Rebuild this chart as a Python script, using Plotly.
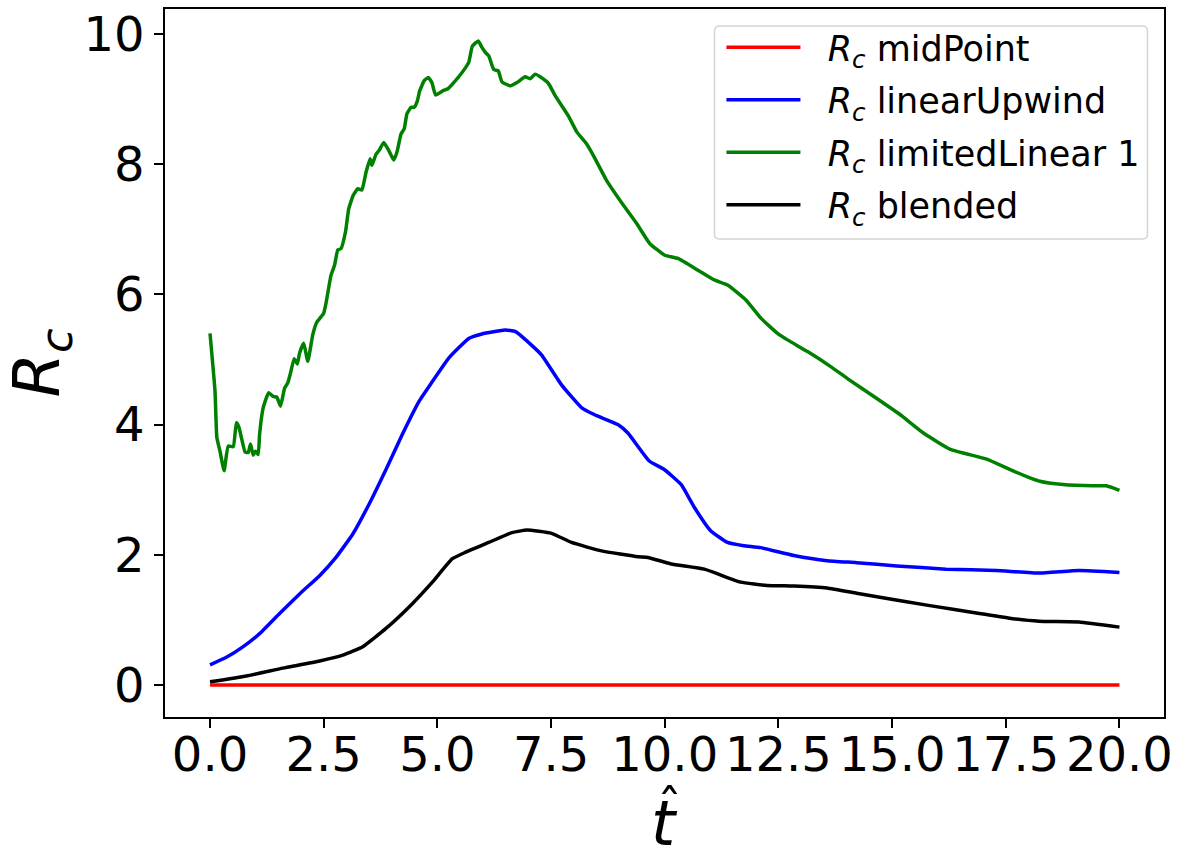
import plotly.graph_objects as go

# ---- data ----
t_mid = [0.0, 20.0]
rc_mid = [0.0, 0.0]

t_lu = [0.0, 0.37, 0.73, 1.09, 1.53, 1.97, 2.41, 2.77, 3.14, 3.50, 3.87, 4.23, 4.60, 4.89,
        5.25, 5.69, 5.98, 6.49, 6.71, 7.07, 7.29, 7.73, 8.17, 8.46, 8.97, 9.19, 9.66, 9.99,
        10.36, 10.65, 11.01, 11.38, 11.74, 12.11, 12.84, 13.57, 14.22, 15.10, 16.19, 17.29,
        18.23, 19.11, 20.0]
rc_lu = [0.31, 0.43, 0.59, 0.79, 1.10, 1.40, 1.68, 1.96, 2.32, 2.78, 3.31, 3.85, 4.36, 4.66,
         5.02, 5.32, 5.39, 5.45, 5.43, 5.22, 5.07, 4.61, 4.26, 4.15, 4.00, 3.87, 3.44, 3.31,
         3.08, 2.73, 2.37, 2.19, 2.14, 2.11, 1.99, 1.91, 1.88, 1.83, 1.78, 1.76,
         1.72, 1.76, 1.73]

t_ll = [0.0, 0.11, 0.15, 0.22, 0.31, 0.40, 0.51, 0.58, 0.64, 0.69, 0.77, 0.84, 0.89, 0.95,
        1.00, 1.06, 1.09, 1.17, 1.29, 1.39, 1.47, 1.55, 1.64, 1.71, 1.77, 1.85, 1.92, 1.97,
        2.06, 2.15, 2.26, 2.34, 2.50, 2.55, 2.66, 2.74, 2.81, 2.88, 2.98, 3.05, 3.15, 3.25,
        3.34, 3.43, 3.52, 3.56, 3.65, 3.72, 3.82, 3.93, 4.04, 4.11, 4.20, 4.27, 4.33, 4.42,
        4.49, 4.56, 4.61, 4.71, 4.80, 4.88, 4.96, 5.11, 5.24, 5.36, 5.47, 5.62, 5.69, 5.77,
        5.90, 5.98, 6.06, 6.13, 6.24, 6.34, 6.42, 6.61, 6.75, 6.93, 7.04, 7.15, 7.26, 7.44,
        7.59, 7.88, 8.07, 8.28, 8.47, 8.72, 9.12, 9.38, 9.67, 10.0, 10.29, 10.73, 11.09,
        11.39, 11.79, 12.12, 12.48, 12.70, 13.14, 13.65, 14.01, 14.60, 15.18, 15.69, 16.28,
        17.08, 17.66, 18.25, 18.76, 19.42, 19.71, 20.0]
rc_ll = [5.40, 4.51, 3.80, 3.59, 3.29, 3.67, 3.66, 4.03, 3.95, 3.80, 3.58, 3.57, 3.70, 3.53,
         3.59, 3.54, 3.85, 4.26, 4.49, 4.43, 4.42, 4.28, 4.56, 4.64, 4.79, 5.01, 4.93, 5.10,
         5.25, 4.97, 5.38, 5.56, 5.71, 5.86, 6.29, 6.45, 6.68, 6.70, 6.96, 7.31, 7.52, 7.62,
         7.60, 7.87, 8.08, 7.98, 8.15, 8.21, 8.33, 8.21, 8.06, 8.18, 8.46, 8.54, 8.77, 8.87,
         8.87, 8.97, 9.12, 9.28, 9.33, 9.25, 9.06, 9.12, 9.16, 9.25, 9.34, 9.48, 9.56, 9.81,
         9.89, 9.79, 9.71, 9.66, 9.45, 9.43, 9.26, 9.20, 9.25, 9.34, 9.31, 9.38, 9.34, 9.24,
         9.05, 8.74, 8.49, 8.31, 8.08, 7.75, 7.34, 7.09, 6.78, 6.60, 6.55, 6.37, 6.22,
         6.14, 5.91, 5.63, 5.40, 5.30, 5.12, 4.89, 4.71, 4.43, 4.15, 3.87, 3.62,
         3.47, 3.29, 3.13, 3.08, 3.06, 3.06, 2.99]

t_bl = [0.0, 0.80, 1.60, 2.41, 2.92, 3.36, 3.87, 4.45, 4.89, 5.33, 5.62, 6.13, 6.64, 6.97,
        7.51, 7.95, 8.61, 9.41, 9.63, 10.14, 10.87, 11.67, 12.25, 12.84, 13.57, 14.22, 14.73,
        15.83, 16.92, 17.65, 18.23, 19.11, 20.0]
rc_bl = [0.05, 0.14, 0.26, 0.37, 0.46, 0.59, 0.87, 1.25, 1.58, 1.94, 2.04, 2.19, 2.34, 2.38,
         2.33, 2.19, 2.06, 1.97, 1.96, 1.86, 1.78, 1.58, 1.53, 1.52, 1.49, 1.41, 1.35,
         1.22, 1.10, 1.02, 0.98, 0.97, 0.89]

names = ["midPoint", "linearUpwind", "limitedLinear 1", "blended"]
colors = ["#ff0000", "#0000ff", "#008000", "#000000"]

x_ticks = [0, 2.5, 5, 7.5, 10, 12.5, 15, 17.5, 20]
x_tick_labels = ["0.0", "2.5", "5.0", "7.5", "10.0", "12.5", "15.0", "17.5", "20.0"]
y_ticks = [0, 2, 4, 6, 8, 10]
y_tick_labels = ["0", "2", "4", "6", "8", "10"]

FONT = "DejaVu Sans"
fig = go.Figure()
series = [(t_mid, rc_mid), (t_lu, rc_lu), (t_ll, rc_ll), (t_bl, rc_bl)]
for i, ((xs, ys), nm, col) in enumerate(zip(series, names, colors)):
    fig.add_trace(go.Scatter(
        x=xs, y=ys, mode="lines",
        name="\u00a0\u00a0<i>R</i><sub><i>c</i></sub> " + nm,
        legendgroup="g%d" % i,
        line=dict(color=col, width=3.5, shape="spline", smoothing=0.4),
    ))

axis_common = dict(
    showgrid=False, zeroline=False, showline=True, linecolor="black", linewidth=1.6,
    mirror=True, ticks="outside", ticklen=9, tickwidth=1.6, tickcolor="black",
    tickfont=dict(family=FONT, size=48, color="black"),
)

# rounded legend frame (paper coordinates of the plot area)
PW, PH = 1003.6, 711.0
x0, x1 = (717 - 165) / PW, (1152 - 165) / PW
y1, y0 = 1 - (23 - 6) / PH, 1 - (237 - 6) / PH
rx, ry = 5 / PW, 5 / PH
frame_path = (
    f"M {x0+rx},{y1} L {x1-rx},{y1} Q {x1},{y1} {x1},{y1-ry} "
    f"L {x1},{y0+ry} Q {x1},{y0} {x1-rx},{y0} L {x0+rx},{y0} "
    f"Q {x0},{y0} {x0},{y0+ry} L {x0},{y1-ry} Q {x0},{y1} {x0+rx},{y1} Z"
)

fig.update_layout(
    width=1179, height=847,
    margin=dict(l=165, r=10, t=6, b=130),
    paper_bgcolor="white", plot_bgcolor="white",
    font=dict(family=FONT, color="black"),
    xaxis=dict(range=[-0.99, 20.98], tickvals=x_ticks, ticktext=x_tick_labels,
               ticklabelstandoff=-14, **axis_common),
    yaxis=dict(range=[-0.49, 10.38], tickvals=y_ticks, ticktext=y_tick_labels,
               title=dict(text="<i>R</i><sub><i>c</i></sub>", font=dict(family=FONT, size=64), standoff=14),
               **axis_common),
    legend=dict(
        x=(724 - 165) / PW, y=1 - (15 - 6) / PH, xanchor="left", yanchor="top",
        bgcolor="rgba(0,0,0,0)", borderwidth=0,
        font=dict(family=FONT, size=35, color="black"),
        itemwidth=74, tracegroupgap=4,
    ),
    showlegend=True,
    shapes=[dict(type="path", xref="paper", yref="paper", path=frame_path,
                 fillcolor="rgba(255,255,255,0.8)", line=dict(color="#d5d5d5", width=1.5),
                 layer="above")],
    annotations=[
        dict(text="<i>t</i>", xref="paper", yref="paper", x=0.5, y=-0.150,
             xanchor="center", yanchor="middle", showarrow=False,
             font=dict(family=FONT, size=62, color="black")),
        dict(text="ˆ", xref="paper", yref="paper", x=0.505, y=-0.129,
             xanchor="center", yanchor="middle", showarrow=False,
             font=dict(family=FONT, size=50, color="black")),
    ],
)

fig.write_html("out.html")
